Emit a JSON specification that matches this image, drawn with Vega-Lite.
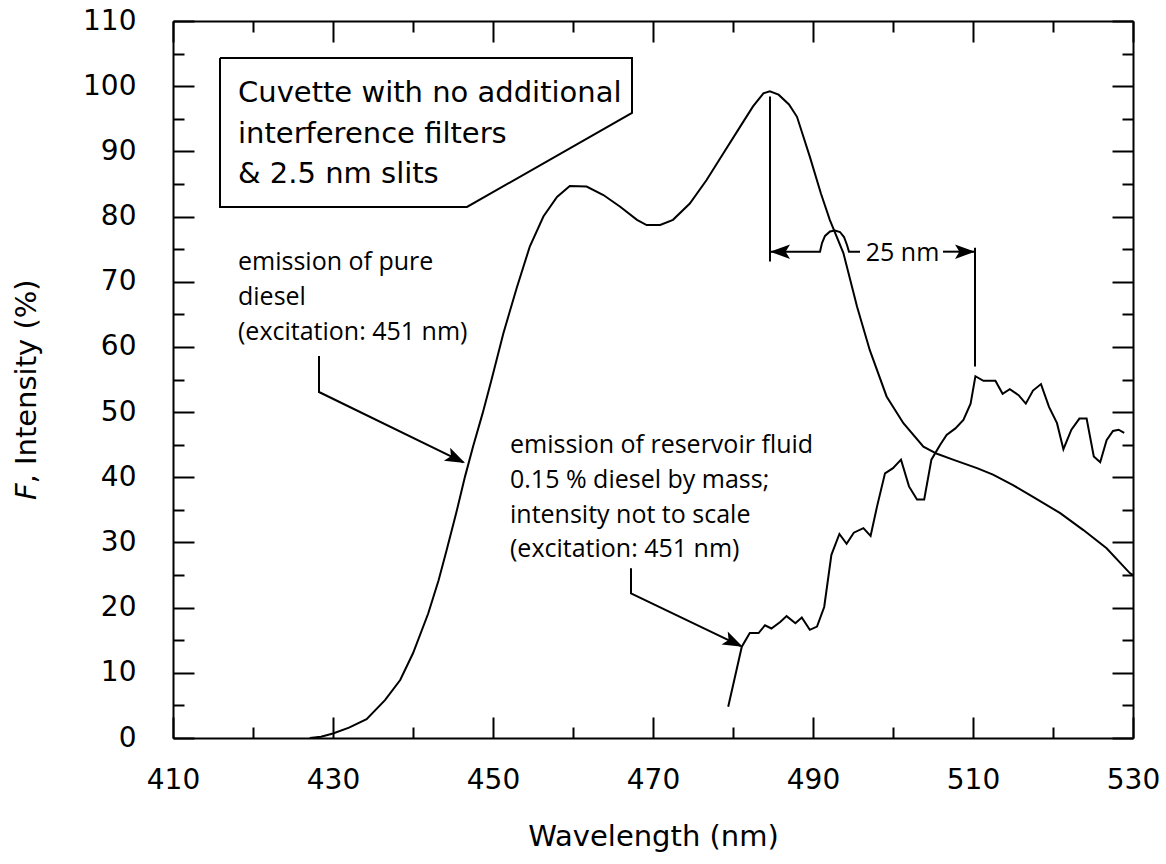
{
  "$schema": "https://vega.github.io/schema/vega-lite/v6.json",
  "width": 960,
  "height": 717,
  "autosize": "none",
  "padding": {"left": 173, "top": 21, "right": 33, "bottom": 126},
  "background": "white",
  "config": {
    "view": {"stroke": null},
    "axis": {
      "grid": false,
      "tickColor": "black",
      "tickWidth": 2,
      "domainColor": "black",
      "domainWidth": 2,
      "labelColor": "black",
      "labelFont": "DejaVu Sans",
      "labelFontSize": 28,
      "labelFlush": false,
      "labelOverlap": false,
      "titleColor": "black",
      "titleFont": "DejaVu Sans",
      "titleFontSize": 29,
      "titleFontWeight": "normal"
    }
  },
  "datasets": {
    "diesel": [
      {"w": 427.1, "v": 0}, {"w": 428.5, "v": 0.2}, {"w": 430, "v": 0.7}, {"w": 432, "v": 1.6},
      {"w": 434.2, "v": 2.9}, {"w": 436.5, "v": 5.8}, {"w": 438.4, "v": 8.9}, {"w": 440, "v": 13.0},
      {"w": 441.9, "v": 19.1}, {"w": 443.2, "v": 24.2}, {"w": 444.2, "v": 28.8}, {"w": 445.4, "v": 34.5},
      {"w": 446.5, "v": 40.1}, {"w": 447.5, "v": 44.7}, {"w": 448.7, "v": 49.8}, {"w": 449.8, "v": 54.9},
      {"w": 451.3, "v": 62.1}, {"w": 453, "v": 69.2}, {"w": 454.6, "v": 75.4}, {"w": 456.3, "v": 80.0},
      {"w": 458, "v": 83.0}, {"w": 459.6, "v": 84.7}, {"w": 461.7, "v": 84.6}, {"w": 463.8, "v": 83.3},
      {"w": 465.9, "v": 81.5}, {"w": 468, "v": 79.5}, {"w": 469.2, "v": 78.7}, {"w": 470.9, "v": 78.7},
      {"w": 472.5, "v": 79.5}, {"w": 474.6, "v": 82.0}, {"w": 476.7, "v": 85.6}, {"w": 478.8, "v": 89.7},
      {"w": 480.9, "v": 93.8}, {"w": 482.5, "v": 96.9}, {"w": 483.8, "v": 98.9}, {"w": 484.6, "v": 99.2},
      {"w": 485.7, "v": 98.7}, {"w": 487, "v": 97.2}, {"w": 488, "v": 95.3}, {"w": 489.6, "v": 89.2},
      {"w": 491, "v": 83.5}, {"w": 492.1, "v": 79.5}, {"w": 493.8, "v": 74.4}, {"w": 495.5, "v": 66.2},
      {"w": 497.1, "v": 59.5}, {"w": 499.2, "v": 52.4}, {"w": 501.3, "v": 48.3}, {"w": 503.8, "v": 44.7},
      {"w": 505.5, "v": 43.6}, {"w": 507.5, "v": 42.7}, {"w": 510.5, "v": 41.4}, {"w": 512.5, "v": 40.4},
      {"w": 515, "v": 38.8}, {"w": 517.5, "v": 37.0}, {"w": 520.9, "v": 34.5}, {"w": 523.8, "v": 31.9},
      {"w": 526.7, "v": 29.1}, {"w": 529.6, "v": 25.3}, {"w": 530, "v": 25.0}
    ],
    "reservoir": [
      {"w": 479.4, "v": 4.8}, {"w": 481.1, "v": 14.0}, {"w": 482.1, "v": 16.1}, {"w": 483.2, "v": 16.1},
      {"w": 484.0, "v": 17.3}, {"w": 484.8, "v": 16.8}, {"w": 485.9, "v": 17.8}, {"w": 486.7, "v": 18.7},
      {"w": 487.8, "v": 17.6}, {"w": 488.6, "v": 18.5}, {"w": 489.6, "v": 16.6}, {"w": 490.5, "v": 17.1},
      {"w": 491.4, "v": 20.1}, {"w": 492.3, "v": 28.1}, {"w": 493.3, "v": 31.3}, {"w": 494.2, "v": 29.8},
      {"w": 495.1, "v": 31.5}, {"w": 496.3, "v": 32.2}, {"w": 497.2, "v": 31.0}, {"w": 498.0, "v": 35.5},
      {"w": 499.0, "v": 40.6}, {"w": 500.0, "v": 41.4}, {"w": 501.0, "v": 42.7}, {"w": 502.0, "v": 38.6},
      {"w": 503.0, "v": 36.6}, {"w": 503.9, "v": 36.6}, {"w": 504.8, "v": 42.7}, {"w": 505.9, "v": 45.0},
      {"w": 506.7, "v": 46.5}, {"w": 507.8, "v": 47.5}, {"w": 508.8, "v": 48.8}, {"w": 509.7, "v": 51.3},
      {"w": 510.3, "v": 55.5}, {"w": 511.3, "v": 54.8}, {"w": 512.0, "v": 54.8}, {"w": 512.8, "v": 54.8},
      {"w": 513.7, "v": 52.8}, {"w": 514.6, "v": 53.5}, {"w": 515.7, "v": 52.6}, {"w": 516.6, "v": 51.3},
      {"w": 517.5, "v": 53.3}, {"w": 518.5, "v": 54.3}, {"w": 519.5, "v": 50.8}, {"w": 520.5, "v": 48.3},
      {"w": 521.3, "v": 44.3}, {"w": 522.3, "v": 47.3}, {"w": 523.3, "v": 49.0}, {"w": 524.2, "v": 49.0},
      {"w": 525.1, "v": 43.2}, {"w": 525.9, "v": 42.3}, {"w": 526.7, "v": 45.7}, {"w": 527.5, "v": 47.1},
      {"w": 528.2, "v": 47.3}, {"w": 528.9, "v": 46.8}
    ],
    "lines": [
      {"id": "box", "i": 0, "w": 415.875, "v": 104.33}, {"id": "box", "i": 1, "w": 467.375, "v": 104.33},
      {"id": "box", "i": 2, "w": 467.375, "v": 95.89}, {"id": "box", "i": 3, "w": 446.75, "v": 81.47},
      {"id": "box", "i": 4, "w": 415.875, "v": 81.47}, {"id": "box", "i": 5, "w": 415.875, "v": 104.33},
      {"id": "arrow1", "i": 0, "w": 428.25, "v": 58.6}, {"id": "arrow1", "i": 1, "w": 428.25, "v": 53.08},
      {"id": "arrow1", "i": 2, "w": 446.3, "v": 42.3},
      {"id": "arrow2", "i": 0, "w": 467.25, "v": 26.04}, {"id": "arrow2", "i": 1, "w": 467.25, "v": 22.2},
      {"id": "arrow2", "i": 2, "w": 481.0, "v": 14.1},
      {"id": "vert1", "i": 0, "w": 484.625, "v": 98.4}, {"id": "vert1", "i": 1, "w": 484.625, "v": 73.1},
      {"id": "vert2", "i": 0, "w": 510.25, "v": 75.2}, {"id": "vert2", "i": 1, "w": 510.25, "v": 57.0},
      {"id": "hleft", "i": 0, "w": 484.625, "v": 74.61}, {"id": "hleft", "i": 1, "w": 490.875, "v": 74.61},
      {"id": "hleft", "i": 2, "w": 491.125, "v": 75.94}, {"id": "hleft", "i": 3, "w": 491.5, "v": 77.02},
      {"id": "hleft", "i": 4, "w": 492.125, "v": 77.71}, {"id": "hleft", "i": 5, "w": 492.75, "v": 77.86},
      {"id": "hleft", "i": 6, "w": 493.375, "v": 77.63}, {"id": "hleft", "i": 7, "w": 493.875, "v": 76.86},
      {"id": "hleft", "i": 8, "w": 494.25, "v": 75.64}, {"id": "hleft", "i": 9, "w": 494.5, "v": 74.61},
      {"id": "hleft", "i": 10, "w": 495.875, "v": 74.61},
      {"id": "hright", "i": 0, "w": 506.25, "v": 74.61}, {"id": "hright", "i": 1, "w": 510.25, "v": 74.61}
    ],
    "heads": [
      {"w": 446.5, "v": 42.19, "dir": 25.9},
      {"w": 481.21, "v": 14.01, "dir": 25.5},
      {"w": 484.625, "v": 74.61, "dir": 180},
      {"w": 510.25, "v": 74.61, "dir": 0}
    ],
    "boxtext": [
      {"w": 418.125, "v": 97.62, "text": "Cuvette with no additional"},
      {"w": 418.125, "v": 91.35, "text": "interference filters"},
      {"w": 418.125, "v": 85.21, "text": "& 2.5 nm slits"}
    ],
    "labels": [
      {"w": 418.125, "v": 71.8, "text": "emission of pure"},
      {"w": 418.125, "v": 66.43, "text": "diesel"},
      {"w": 418.125, "v": 61.06, "text": "(excitation: 451 nm)"},
      {"w": 452.125, "v": 43.77, "text": "emission of reservoir fluid"},
      {"w": 452.125, "v": 38.28, "text": "0.15 % diesel by mass;"},
      {"w": 452.125, "v": 32.94, "text": "intensity not to scale"},
      {"w": 452.125, "v": 27.82, "text": "(excitation: 451 nm)"},
      {"w": 496.59, "v": 73.23, "text": "25 nm"}
    ],
    "ytitleF": [{"w": 392.875, "v": 36.5, "text": "F"}],
    "ytitleRest": [{"w": 392.875, "v": 39.05, "text": ", Intensity (%)"}]
  },
  "layer": [
    {
      "data": {"name": "diesel"},
      "mark": {"type": "line", "color": "black", "strokeWidth": 2},
      "encoding": {
        "x": {
          "field": "w", "type": "quantitative",
          "scale": {"domain": [410, 530], "nice": false, "zero": false},
          "axis": {
            "orient": "bottom",
            "values": [410, 420, 430, 440, 450, 460, 470, 480, 490, 500, 510, 520, 530],
            "labelExpr": "datum.value % 20 == 10 ? datum.label : ''",
            "tickSize": {"condition": {"test": "datum.value % 20 == 10", "value": -21}, "value": -11},
            "labelPadding": 49,
            "title": "Wavelength (nm)",
            "titlePadding": 18
          }
        },
        "y": {
          "field": "v", "type": "quantitative",
          "scale": {"domain": [0, 110], "nice": false, "zero": false},
          "axis": {
            "orient": "left",
            "values": [0, 5, 10, 15, 20, 25, 30, 35, 40, 45, 50, 55, 60, 65, 70, 75, 80, 85, 90, 95, 100, 105, 110],
            "labelExpr": "datum.value % 10 == 0 ? datum.label : ''",
            "tickSize": {"condition": {"test": "datum.value % 10 == 0", "value": -21}, "value": -11},
            "labelPadding": 58,
            "title": null
          }
        }
      }
    },
    {
      "data": {"name": "reservoir"},
      "mark": {"type": "line", "color": "black", "strokeWidth": 2},
      "encoding": {
        "x": {
          "field": "w", "type": "quantitative",
          "scale": {"domain": [410, 530], "nice": false, "zero": false},
          "axis": {
            "orient": "top",
            "values": [410, 420, 430, 440, 450, 460, 470, 480, 490, 500, 510, 520, 530],
            "labels": false,
            "tickSize": {"condition": {"test": "datum.value % 20 == 10", "value": -21}, "value": -11},
            "title": null
          }
        },
        "y": {
          "field": "v", "type": "quantitative",
          "scale": {"domain": [0, 110], "nice": false, "zero": false},
          "axis": {
            "orient": "right",
            "values": [0, 5, 10, 15, 20, 25, 30, 35, 40, 45, 50, 55, 60, 65, 70, 75, 80, 85, 90, 95, 100, 105, 110],
            "labels": false,
            "tickSize": {"condition": {"test": "datum.value % 10 == 0", "value": -21}, "value": -11},
            "title": null
          }
        }
      }
    },
    {
      "data": {"name": "lines"},
      "mark": {"type": "line", "color": "black", "strokeWidth": 2},
      "encoding": {
        "x": {"field": "w", "type": "quantitative", "scale": {"domain": [410, 530], "nice": false, "zero": false}, "axis": null},
        "y": {"field": "v", "type": "quantitative", "scale": {"domain": [0, 110], "nice": false, "zero": false}, "axis": null},
        "detail": {"field": "id"},
        "order": {"field": "i"}
      }
    },
    {
      "data": {"name": "heads"},
      "mark": {"type": "point", "shape": "M0,0L-1,-0.36L-0.78,0L-1,0.36Z", "filled": true, "color": "black", "opacity": 1, "size": 1600, "strokeWidth": 0},
      "encoding": {
        "x": {"field": "w", "type": "quantitative", "scale": {"domain": [410, 530], "nice": false, "zero": false}, "axis": null},
        "y": {"field": "v", "type": "quantitative", "scale": {"domain": [0, 110], "nice": false, "zero": false}, "axis": null},
        "angle": {"field": "dir", "type": "quantitative", "scale": null}
      }
    },
    {
      "data": {"name": "boxtext"},
      "mark": {"type": "text", "align": "left", "baseline": "alphabetic", "font": "DejaVu Sans", "fontSize": 29, "color": "black"},
      "encoding": {
        "x": {"field": "w", "type": "quantitative", "scale": {"domain": [410, 530], "nice": false, "zero": false}, "axis": null},
        "y": {"field": "v", "type": "quantitative", "scale": {"domain": [0, 110], "nice": false, "zero": false}, "axis": null},
        "text": {"field": "text"}
      }
    },
    {
      "data": {"name": "labels"},
      "mark": {"type": "text", "align": "left", "baseline": "alphabetic", "font": "Open Sans", "fontSize": 25, "color": "black"},
      "encoding": {
        "x": {"field": "w", "type": "quantitative", "scale": {"domain": [410, 530], "nice": false, "zero": false}, "axis": null},
        "y": {"field": "v", "type": "quantitative", "scale": {"domain": [0, 110], "nice": false, "zero": false}, "axis": null},
        "text": {"field": "text"}
      }
    },
    {
      "data": {"name": "ytitleF"},
      "mark": {"type": "text", "align": "left", "baseline": "alphabetic", "angle": 270, "font": "DejaVu Sans", "fontStyle": "italic", "fontSize": 29, "color": "black"},
      "encoding": {
        "x": {"field": "w", "type": "quantitative", "scale": {"domain": [410, 530], "nice": false, "zero": false}, "axis": null},
        "y": {"field": "v", "type": "quantitative", "scale": {"domain": [0, 110], "nice": false, "zero": false}, "axis": null},
        "text": {"field": "text"}
      }
    },
    {
      "data": {"name": "ytitleRest"},
      "mark": {"type": "text", "align": "left", "baseline": "alphabetic", "angle": 270, "font": "DejaVu Sans", "fontSize": 29, "color": "black"},
      "encoding": {
        "x": {"field": "w", "type": "quantitative", "scale": {"domain": [410, 530], "nice": false, "zero": false}, "axis": null},
        "y": {"field": "v", "type": "quantitative", "scale": {"domain": [0, 110], "nice": false, "zero": false}, "axis": null},
        "text": {"field": "text"}
      }
    }
  ],
  "resolve": {"axis": {"x": "independent", "y": "independent"}}
}
